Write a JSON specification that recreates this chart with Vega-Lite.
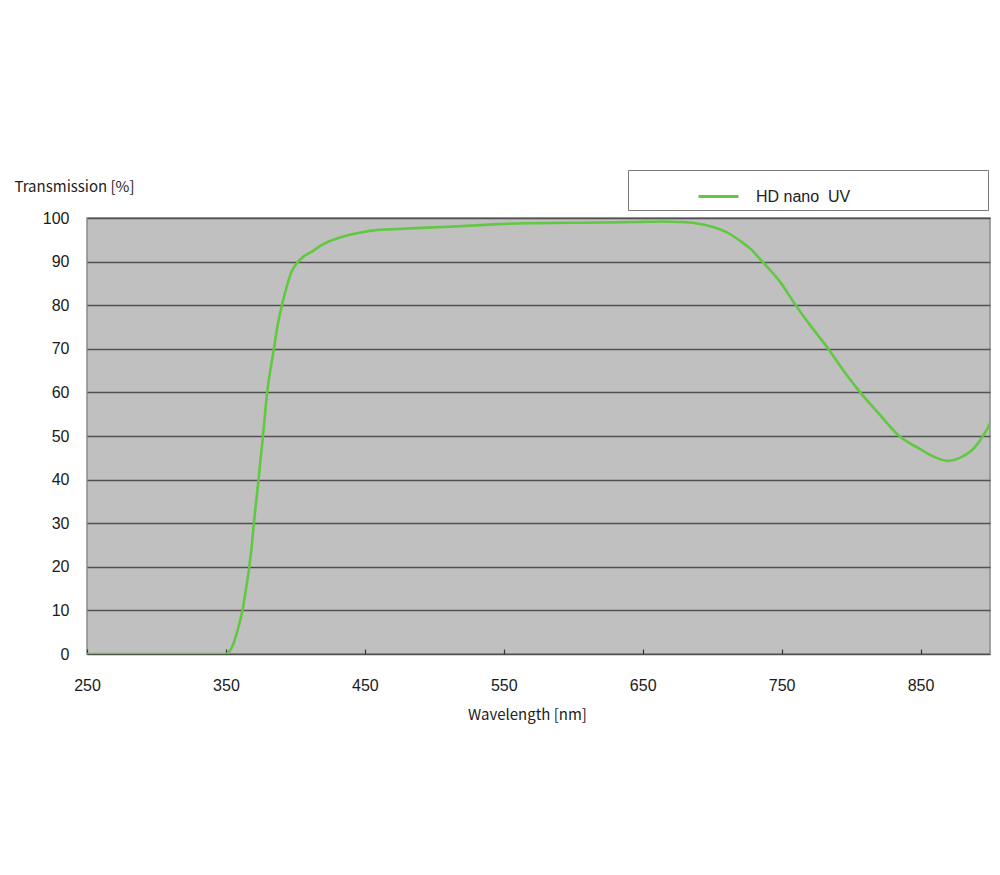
{
  "$schema": "https://vega.github.io/schema/vega-lite/v6.json",
  "width": 903,
  "height": 436,
  "autosize": "none",
  "padding": {"left": 87, "top": 218, "right": 10, "bottom": 221},
  "background": "white",
  "config": {
    "view": {"fill": "#C0C0C0", "stroke": "#8a8a8a", "strokeWidth": 1.5},
    "axis": {
      "labelFont": "Liberation Sans",
      "labelFontSize": 16,
      "labelColor": "#1a1a1a",
      "titleFont": "Noto Sans CJK JP",
      "titleFontSize": 15,
      "titleFontWeight": "normal",
      "titleColor": "#222222",
      "gridColor": "#505050",
      "gridWidth": 1.6,
      "gridOpacity": 1,
      "domain": false
    }
  },
  "data": {
    "values": [
      {"wl": 250, "t": 0}, {"wl": 300, "t": 0}, {"wl": 350, "t": 0}, {"wl": 352, "t": 0.4},
      {"wl": 355, "t": 2}, {"wl": 358, "t": 5}, {"wl": 361.7, "t": 9.7}, {"wl": 364, "t": 14},
      {"wl": 366.5, "t": 19.3}, {"wl": 368.5, "t": 24.5}, {"wl": 370, "t": 29.6}, {"wl": 373.3, "t": 39.5},
      {"wl": 376.6, "t": 49.8}, {"wl": 379.7, "t": 60}, {"wl": 384.5, "t": 69.9}, {"wl": 387, "t": 75},
      {"wl": 390, "t": 79.6}, {"wl": 394, "t": 84.5}, {"wl": 397, "t": 87.5}, {"wl": 401.3, "t": 89.7},
      {"wl": 406, "t": 91.2}, {"wl": 412, "t": 92.3}, {"wl": 418, "t": 93.6}, {"wl": 424, "t": 94.6},
      {"wl": 431, "t": 95.4}, {"wl": 438.5, "t": 96.1}, {"wl": 446, "t": 96.6}, {"wl": 455.3, "t": 97.1},
      {"wl": 468, "t": 97.4}, {"wl": 481.7, "t": 97.6}, {"wl": 495, "t": 97.8}, {"wl": 510.5, "t": 98.0},
      {"wl": 530, "t": 98.3}, {"wl": 546, "t": 98.6}, {"wl": 570, "t": 98.8}, {"wl": 600, "t": 98.9},
      {"wl": 630, "t": 99.0}, {"wl": 650, "t": 99.1}, {"wl": 665, "t": 99.2}, {"wl": 676, "t": 99.1},
      {"wl": 688, "t": 98.8}, {"wl": 699.9, "t": 98.0}, {"wl": 710, "t": 96.8}, {"wl": 719, "t": 95.0},
      {"wl": 728, "t": 92.8}, {"wl": 737, "t": 89.7}, {"wl": 747.8, "t": 85.8}, {"wl": 761, "t": 79.6},
      {"wl": 772, "t": 74.8}, {"wl": 783.8, "t": 69.9}, {"wl": 795, "t": 64.8}, {"wl": 806.6, "t": 60.0},
      {"wl": 819.8, "t": 55.2}, {"wl": 835.4, "t": 49.8}, {"wl": 848.6, "t": 47.2}, {"wl": 860.6, "t": 45.1},
      {"wl": 870, "t": 44.3}, {"wl": 879.7, "t": 45.2}, {"wl": 889.3, "t": 47.5}, {"wl": 895.3, "t": 50.2},
      {"wl": 899.4, "t": 52.5}, {"wl": 900, "t": 53}
    ]
  },
  "mark": {"type": "line", "strokeWidth": 2.6, "interpolate": "monotone", "clip": true},
  "encoding": {
    "x": {
      "field": "wl", "type": "quantitative",
      "scale": {"domain": [250, 900], "nice": false, "zero": false},
      "axis": {
        "values": [250, 350, 450, 550, 650, 750, 850],
        "grid": false, "labelFlush": false,
        "ticks": true, "tickSize": -5, "tickColor": "#333333", "tickWidth": 1.2,
        "labelPadding": 28, "labelBaseline": "top",
        "title": "Wavelength [nm]",
        "titleX": 440, "titleY": 60, "titleBaseline": "middle", "titleAlign": "center"
      }
    },
    "y": {
      "field": "t", "type": "quantitative",
      "scale": {"domain": [0, 100], "nice": false},
      "axis": {
        "values": [0, 10, 20, 30, 40, 50, 60, 70, 80, 90, 100],
        "ticks": false, "labelPadding": 18,
        "labelBaseline": "middle",
        "title": "Transmission [%]",
        "titleAngle": 0, "titleAlign": "left", "titleBaseline": "middle",
        "titleX": -73, "titleY": -32
      }
    },
    "color": {
      "datum": "HD nano\u00a0 UV",
      "scale": {"range": ["#62c842"]},
      "legend": {
        "orient": "none", "legendX": 541, "legendY": -48,
        "direction": "vertical",
        "padding": 5,
        "symbolType": "stroke", "symbolSize": 1600, "symbolStrokeWidth": 3,
        "symbolOffset": 64,
        "labelOffset": 16,
        "labelFont": "Liberation Sans", "labelFontSize": 16, "labelColor": "#222222",
        "strokeColor": "#7a7a7a", "fillColor": "white",
        "title": " ", "titleOrient": "right", "titlePadding": 133
      }
    }
  }
}
